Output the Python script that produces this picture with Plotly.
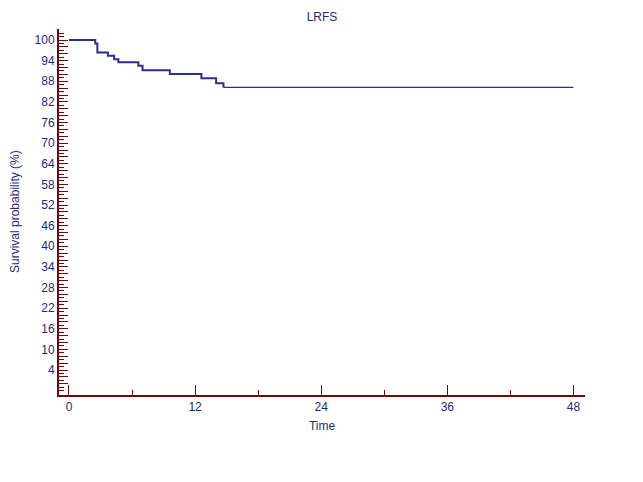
import plotly.graph_objects as go

# Kaplan-Meier step data (time, survival %)
time_steps = [0, 2.5, 2.7, 3.7, 4.3, 4.7, 6.6, 7.0, 9.6, 12.6, 14.0, 14.7]
survival = [100, 99.0, 96.4, 95.4, 94.4, 93.5, 92.5, 91.2, 90.1, 88.9, 87.4, 86.2]
time_end = 48

x_tick_values = [0, 12, 24, 36, 48]
y_label_values = [4, 10, 16, 22, 28, 34, 40, 46, 52, 58, 64, 70, 76, 82, 88, 94, 100]
y_major_tick_values = list(range(0, 101, 2))

NAVY = "#2b2f8c"
MAROON = "#6e0a0a"
TXT = "#1f2a80"

fig = go.Figure()
# early part (thicker line)
fig.add_trace(go.Scatter(x=time_steps, y=survival, mode="lines",
                         line=dict(shape="hv", color=NAVY, width=2),
                         showlegend=False, hoverinfo="skip"))
# tail (thin line)
fig.add_trace(go.Scatter(x=[time_steps[-1], time_end], y=[survival[-1], survival[-1]],
                         mode="lines", line=dict(shape="hv", color=NAVY, width=1.2),
                         showlegend=False, hoverinfo="skip"))

y_tick_text = [str(v) if v in y_label_values else "" for v in y_major_tick_values]

# page body has an 8px margin, so the figure is offset by 8px
L, R, T, B = 51, 66, 21, 95
plot_w = 643 - L - R

fig.update_layout(
    width=643, height=482,
    margin=dict(l=L, r=R, t=T, b=B, autoexpand=False),
    paper_bgcolor="white", plot_bgcolor="white",
    font=dict(family="Liberation Sans, Arial, sans-serif", size=12, color=TXT),
    title=dict(text="LRFS", x=0.5, xref="paper", xanchor="center",
               y=1 - 9 / 482, yref="container", yanchor="middle",
               font=dict(size=12, color=TXT)),
    xaxis=dict(range=[-0.95, 49.1], showgrid=False, zeroline=False, automargin=False,
               showline=True, linecolor=MAROON, linewidth=2,
               tickmode="array", tickvals=x_tick_values,
               ticks="inside", ticklen=10, tickcolor=MAROON, tickwidth=1,
               minor=dict(ticks="inside", ticklen=5, dtick=6, tick0=0,
                          tickcolor=MAROON, showgrid=False),
               title=dict(text="Time", standoff=8, font=dict(size=12, color=TXT)),
               tickfont=dict(size=12, color=TXT)),
    yaxis=dict(range=[-3.27, 103.2], showgrid=False, zeroline=False, automargin=False,
               showline=True, linecolor=MAROON, linewidth=2,
               tickmode="array", tickvals=y_major_tick_values, ticktext=y_tick_text,
               ticks="inside", ticklen=9, tickcolor=MAROON, tickwidth=1,
               minor=dict(ticks="inside", ticklen=5, dtick=1, tick0=0,
                          tickcolor=MAROON, showgrid=False),
               tickfont=dict(size=12, color=TXT)),
    annotations=[dict(text="Survival probability (%)", textangle=-90,
                      xref="paper", yref="paper", x=-44 / plot_w, y=0.5,
                      xanchor="center", yanchor="middle", showarrow=False,
                      font=dict(size=12, color=TXT))],
)

fig.write_html("out.html")
